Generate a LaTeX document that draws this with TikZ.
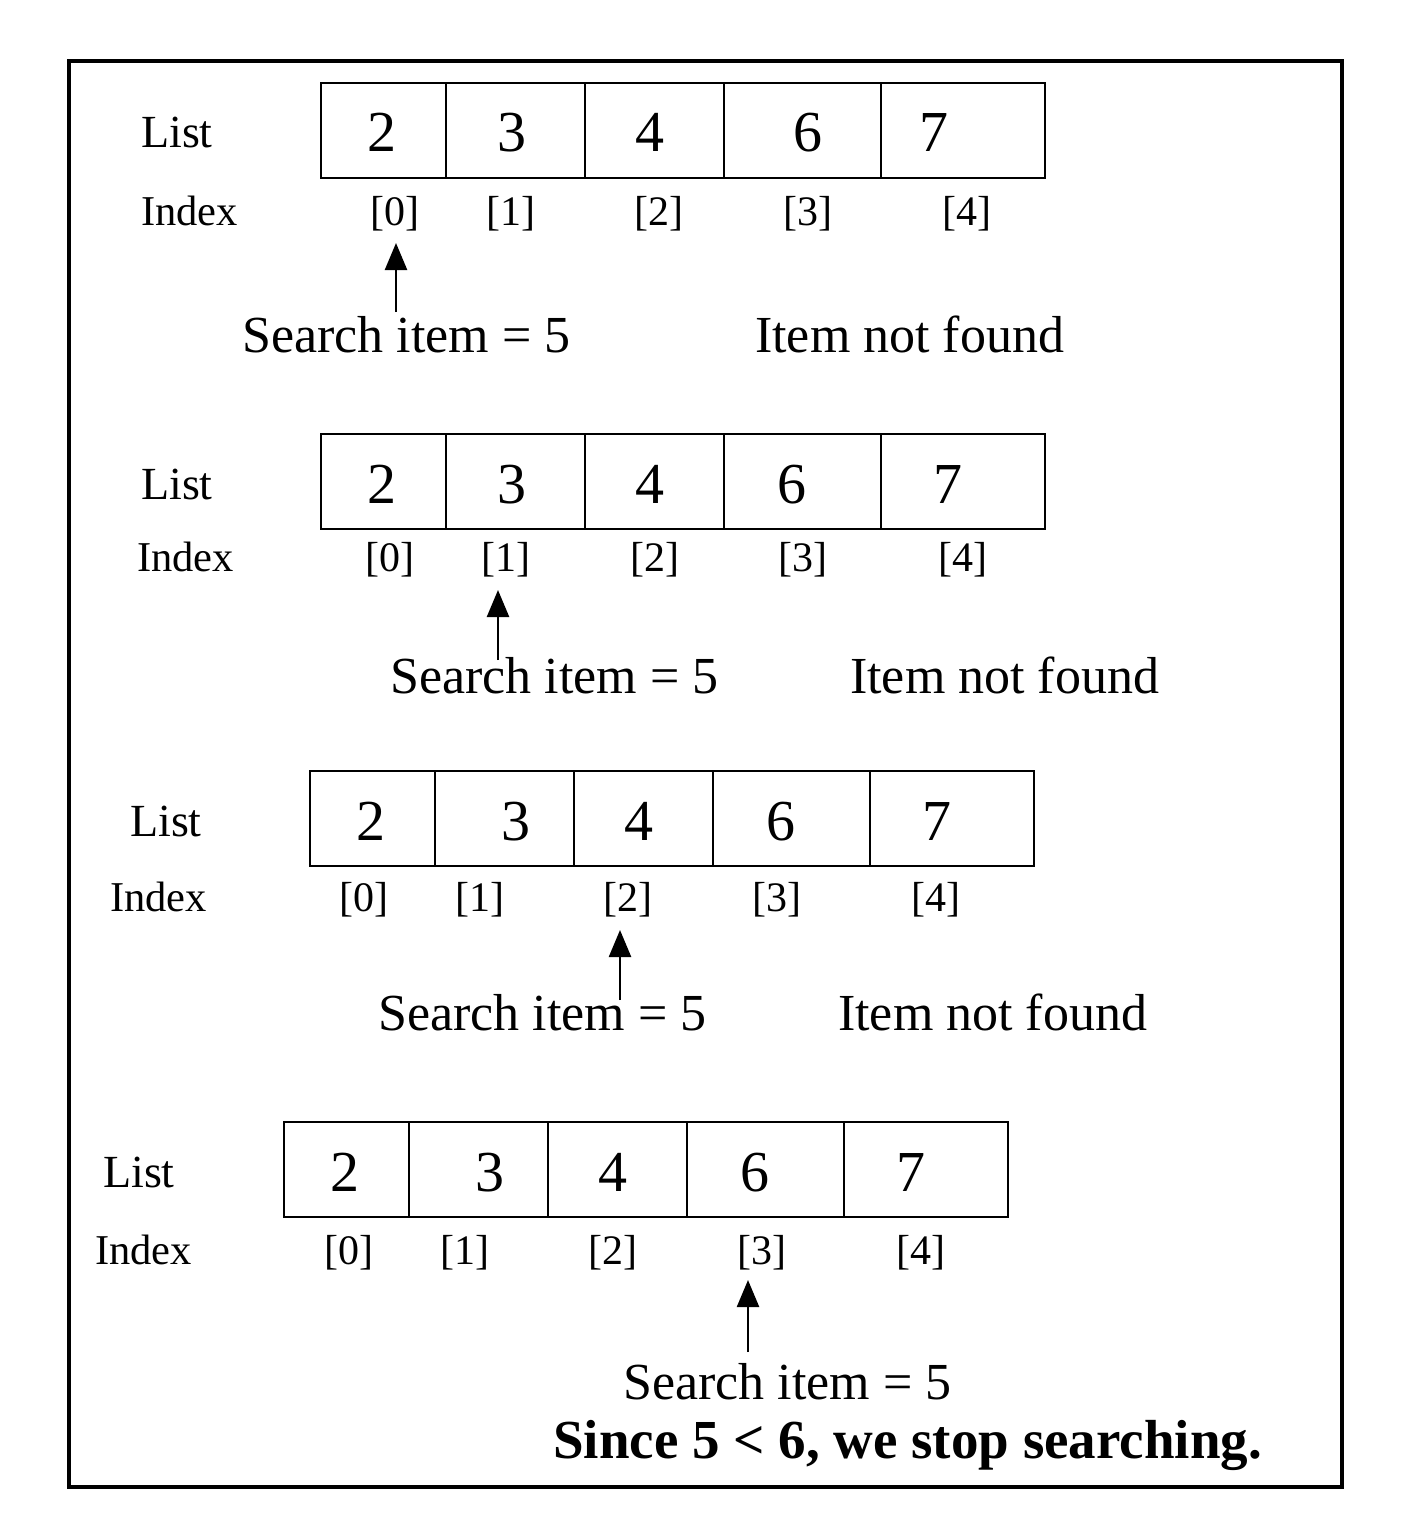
\documentclass[tikz,border=0pt]{standalone}
\usepackage{fontspec}
\setmainfont{Liberation Serif}
\usetikzlibrary{arrows.meta}
\begin{document}
\begin{tikzpicture}[x=1pt,y=-1pt,
  cell/.style={draw,line width=2.6pt,rectangle,inner sep=0pt,minimum height=95pt},
  num/.style={anchor=base,font=\fontsize{58}{60}\selectfont,inner sep=0pt},
  idx/.style={anchor=base,font=\fontsize{42}{44}\selectfont,inner sep=0pt},
  lbl/.style={anchor=base west,font=\fontsize{46}{50}\selectfont,inner sep=0pt},
  ilbl/.style={anchor=base west,font=\fontsize{42.5}{46}\selectfont,inner sep=0pt},
  msg/.style={anchor=base west,font=\fontsize{52}{56}\selectfont,inner sep=0pt},
  ptr/.style={line width=2.4pt,-{Triangle[length=27pt,width=22pt]}}]
\useasboundingbox (0,0) rectangle (1415,1530);
\draw[line width=3.5pt] (69,61) rectangle (1342,1487);

% ---------- row 1 ----------
\foreach \a/\b/\i in {321/446/0,446/585/1,585/724/2,724/881/3,881/1045/4}
  \node[cell,minimum width={\b-\a}] (ca\i) at ({(\a+\b)/2},130.5) {};
\node[lbl] (lista) at (141,148) {List};
\node[ilbl] (indexa) at (141,226) {Index};
\foreach \x/\v/\i in {382/2/0,512/3/1,650/4/2,808/6/3,934/7/4}
  \node[num] (na\i) at (\x,152) {\v};
\foreach \x/\i in {395/0,511/1,659/2,808/3,967/4}
  \node[idx] (ia\i) at (\x,226) {[\i]};
\node[msg] (sa) at (242,352) {Search item = 5};
\node[msg] (fa) at (755,352) {Item not found};
\coordinate (pas) at (396,312);
\coordinate (pat) at (396,243);
\draw[ptr] (pas) -- (pat);

% ---------- row 2 ----------
\foreach \a/\b/\i in {321/446/0,446/585/1,585/724/2,724/881/3,881/1045/4}
  \node[cell,minimum width={\b-\a}] (cb\i) at ({(\a+\b)/2},481.5) {};
\node[lbl] (listb) at (141,499) {List};
\node[ilbl] (indexb) at (137,571) {Index};
\foreach \x/\v/\i in {382/2/0,512/3/1,650/4/2,792/6/3,948/7/4}
  \node[num] (nb\i) at (\x,503) {\v};
\foreach \x/\i in {390/0,506/1,655/2,803/3,963/4}
  \node[idx] (ib\i) at (\x,571) {[\i]};
\node[msg] (sb) at (390,693) {Search item = 5};
\node[msg] (fb) at (850,693) {Item not found};
\coordinate (pbs) at (498,660);
\coordinate (pbt) at (498,590);
\draw[ptr] (pbs) -- (pbt);

% ---------- row 3 ----------
\foreach \a/\b/\i in {310/435/0,435/574/1,574/713/2,713/870/3,870/1034/4}
  \node[cell,minimum width={\b-\a}] (cc\i) at ({(\a+\b)/2},818.5) {};
\node[lbl] (listc) at (130,836) {List};
\node[ilbl] (indexc) at (110,911) {Index};
\foreach \x/\v/\i in {371/2/0,516/3/1,639/4/2,781/6/3,937/7/4}
  \node[num] (nc\i) at (\x,840) {\v};
\foreach \x/\i in {364/0,480/1,628/2,777/3,936/4}
  \node[idx] (ic\i) at (\x,911) {[\i]};
\node[msg] (sc) at (378,1030) {Search item = 5};
\node[msg] (fc) at (838,1030) {Item not found};
\coordinate (pcs) at (620,1000);
\coordinate (pct) at (620,930);
\draw[ptr] (pcs) -- (pct);

% ---------- row 4 ----------
\foreach \a/\b/\i in {284/409/0,409/548/1,548/687/2,687/844/3,844/1008/4}
  \node[cell,minimum width={\b-\a}] (cd\i) at ({(\a+\b)/2},1169.5) {};
\node[lbl] (listd) at (103,1187) {List};
\node[ilbl] (indexd) at (95,1264) {Index};
\foreach \x/\v/\i in {345/2/0,490/3/1,613/4/2,755/6/3,911/7/4}
  \node[num] (nd\i) at (\x,1191) {\v};
\foreach \x/\i in {349/0,465/1,613/2,762/3,921/4}
  \node[idx] (id\i) at (\x,1264) {[\i]};
\node[msg] (sd) at (623,1399) {Search item = 5};
\node[anchor=base west,font=\fontsize{55}{58}\selectfont\bfseries,inner sep=0pt] (stop) at (553,1458) {Since 5 < 6, we stop searching.};
\coordinate (pds) at (748,1352);
\coordinate (pdt) at (748,1280);
\draw[ptr] (pds) -- (pdt);
\end{tikzpicture}
\end{document}
